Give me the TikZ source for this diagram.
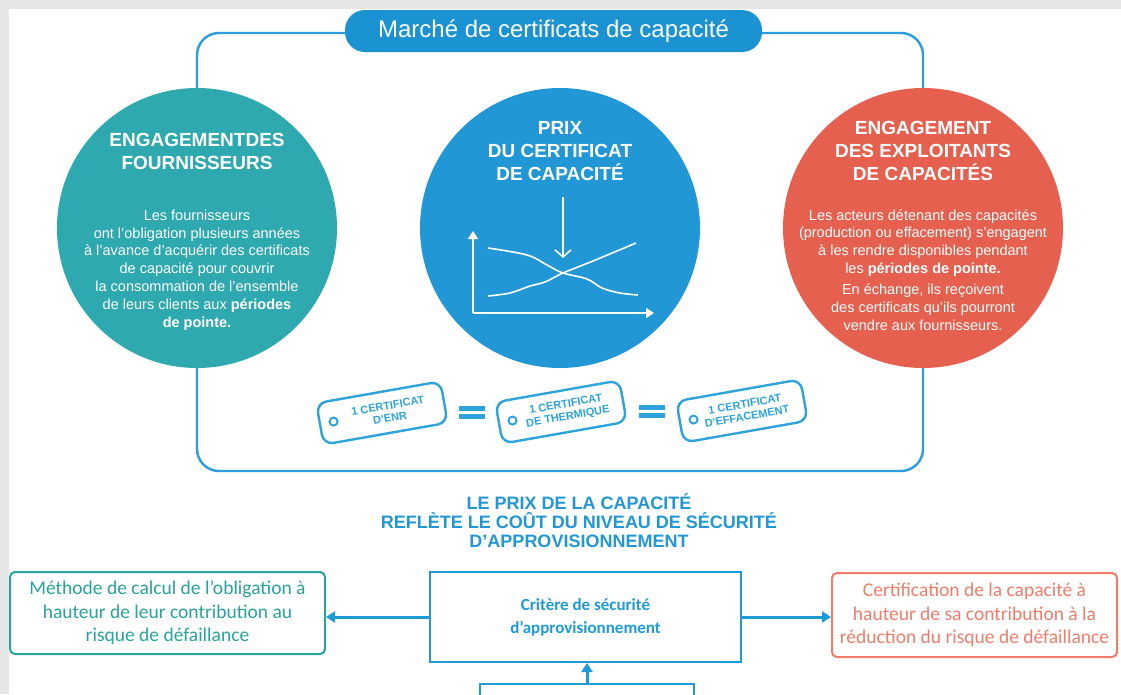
\documentclass[tikz,border=0pt]{standalone}
\usepackage{fontspec}
\setmainfont{Liberation Sans}
\newfontfamily\calfont{Carlito}
\usetikzlibrary{arrows.meta,calc}
\definecolor{bggray}{HTML}{E6E6E6}
\definecolor{tealc}{HTML}{2DA9AF}
\definecolor{bluec}{HTML}{2198D5}
\definecolor{redc}{HTML}{E5604E}
\definecolor{pillc}{HTML}{1B93D3}
\definecolor{framec}{HTML}{2D9CDB}
\definecolor{tagc}{HTML}{2EA3DC}
\definecolor{boxteal}{HTML}{2AA39D}
\definecolor{boxcoral}{HTML}{F07D6A}
\definecolor{boxblue}{HTML}{1E9BD7}
\tikzset{
  bigcircle/.style={circle,minimum size=280pt,inner sep=0pt},
  hdr/.style={text=white,align=center,inner sep=0pt,font=\fontsize{19}{23}\selectfont\bfseries},
  body/.style={text=white,align=center,inner sep=0pt,font=\fontsize{14.5}{17.8}\selectfont},
  chart/.style={white,line width=1.6pt},
  tagbox/.style={draw=tagc,line width=2.4pt,rounded corners=10pt,minimum width=126pt,minimum height=42pt,inner sep=0pt},
  tagtext/.style={text=tagc,align=center,inner sep=0pt,font=\fontsize{11}{12.5}\selectfont\bfseries},
  obox/.style={line width=2pt,rounded corners=5pt,align=center,inner sep=0pt,font=\calfont\fontsize{19.5}{23.5}\selectfont},
  conn/.style={boxblue,line width=3pt,-{Triangle[length=9pt,width=11pt]}},
}
\begin{document}
\begin{tikzpicture}[x=1pt,y=-1pt]
\useasboundingbox (0,0) rectangle (1121,694);
\clip (0,0) rectangle (1121,694);
\fill[bggray] (0,0) rectangle (1121,694);
\fill[white] (9,9) rectangle (1121,694);

% frame
\draw[framec,line width=2.4pt,rounded corners=22pt] (197,33) rectangle (923,471);

% title pill
\node[fill=pillc,rounded corners=20pt,minimum width=417pt,minimum height=42pt,inner sep=0pt,
      text=white,font=\fontsize{24}{28}\selectfont] (title) at (553.5,31) {Marché de certificats de capacité};

% circles
\node[bigcircle,fill=tealc] (c1) at (197,228) {};
\node[bigcircle,fill=bluec] (c2) at (560,228) {};
\node[bigcircle,fill=redc] (c3) at (923,228) {};

\node[hdr] (c1h) at (197,151.5) {ENGAGEMENTDES\\FOURNISSEURS};
\node[body] (c1b) at (197,270) {Les fournisseurs\\ont l'obligation plusieurs années\\à l'avance d'acquérir des certificats\\de capacité pour couvrir\\la consommation de l'ensemble\\de leurs clients aux \textbf{périodes}\\\textbf{de pointe.}};

\node[hdr] (c2h) at (560,151) {PRIX\\DU CERTIFICAT\\DE CAPACITÉ};

\node[hdr] (c3h) at (923,151) {ENGAGEMENT\\DES EXPLOITANTS\\DE CAPACITÉS};
\node[body] (c3b) at (923,270) {Les acteurs détenant des capacités\\(production ou effacement) s'engagent\\à les rendre disponibles pendant\\les \textbf{périodes de pointe.}\\[3.5pt]En échange, ils reçoivent\\des certificats qu'ils pourront\\vendre aux fournisseurs.};

% chart
\draw[chart,-{Triangle[length=8pt,width=10pt]}] (473,313) -- (473,231);
\draw[chart,-{Triangle[length=8pt,width=10pt]}] (473,313) -- (654,313);
\draw[chart,-{Straight Barb[length=7pt,width=16pt]}] (563,197) -- (563,258);
\draw[chart] plot[smooth,tension=0.6] coordinates {(488,248) (527,255) (547,265) (563,273) (587,279) (602,288) (620,293) (638,295)};
\draw[chart] plot[smooth,tension=0.6] coordinates {(488,296) (510,293) (530,286) (545,282) (563,273) (593,261) (636,243)};

% tags
\node[tagbox,rotate=10] (t1) at (382,413) {};
\node[tagbox,rotate=10] (t2) at (561,412) {};
\node[tagbox,rotate=10] (t3) at (742,411) {};
\foreach \t in {t1,t2,t3}{
  \draw[tagc,line width=2pt] ($(\t.west)!15pt!(\t.east)$) circle (4);
}
\node[tagtext,rotate=10] (t1x) at ($(t1.center)!7pt!(t1.east)$) {1 CERTIFICAT\\D'ENR};
\node[tagtext,rotate=10] (t2x) at ($(t2.center)!6pt!(t2.east)$) {1 CERTIFICAT\\DE THERMIQUE};
\node[tagtext,rotate=10] (t3x) at ($(t3.center)!4pt!(t3.east)$) {1 CERTIFICAT\\D'EFFACEMENT};

% equal signs
\fill[tagc] (459,405.5) rectangle (485,410.5);
\fill[tagc] (459,413.5) rectangle (485,418.5);
\fill[tagc] (639,405) rectangle (665,410);
\fill[tagc] (639,413) rectangle (665,418);

% heading
\node[text=bluec,align=center,inner sep=0pt,font=\fontsize{18}{19}\selectfont\bfseries] (head) at (579,521)
  {LE PRIX DE LA CAPACITÉ\\REFLÈTE LE COÛT DU NIVEAU DE SÉCURITÉ\\D’APPROVISIONNEMENT};

% bottom boxes
\node[obox,draw=boxteal,text=boxteal,minimum width=315pt,minimum height=82pt] (lbox) at (167.5,613)
  {Méthode de calcul de l’obligation à\\hauteur de leur contribution au\\risque de défaillance};
\node[draw=boxblue,line width=2pt,minimum width=311pt,minimum height=90pt,inner sep=0pt,align=center,
      text=boxblue,font=\calfont\fontsize{17}{23}\selectfont\bfseries] (cbox) at (585.5,617)
  {Critère de sécurité\\d’approvisionnement};
\node[obox,draw=boxcoral,text=boxcoral,minimum width=285pt,minimum height=84pt] (rbox) at (974.5,615)
  {Certification de la capacité à\\hauteur de sa contribution à la\\réduction du risque de défaillance};
\node[draw=boxblue,line width=2pt,minimum width=214pt,minimum height=40pt,inner sep=0pt,anchor=north] (bbox) at (587,683) {};

\draw[conn] (cbox.west) -- (cbox.west -| lbox.east);
\draw[conn] (cbox.east) -- (cbox.east -| rbox.west);
\draw[conn] (bbox.north) -- (bbox.north |- cbox.south);
\end{tikzpicture}
\end{document}
